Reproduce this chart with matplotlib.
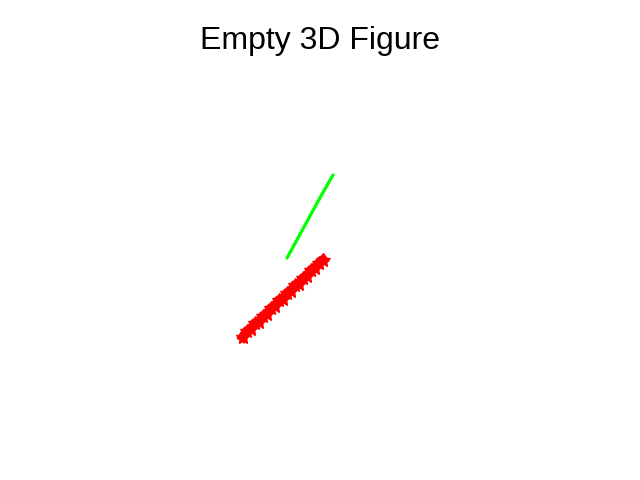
import matplotlib
matplotlib.use("Agg")
import matplotlib.pyplot as plt

plt.rcParams['font.family'] = ['Liberation Sans', 'DejaVu Sans']

# green segment
green_x = [287, 298, 310, 321, 333]
green_y = [258, 238, 216, 196, 175]

# red noisy band of star markers
red_x = [243, 247, 251, 255, 259, 263, 267, 271, 275, 279, 283,
         287, 291, 295, 299, 303, 307, 311, 315, 319, 323]
red_y = [337, 331, 329, 323, 322, 316, 314, 308, 306, 300, 299,
         293, 291, 285, 284, 278, 276, 270, 268, 263, 260]

fig = plt.figure(figsize=(6.4, 4.8), dpi=100)
ax = fig.add_axes([0, 0, 1, 1])
ax.set_xlim(0, 640)
ax.set_ylim(480, 0)
ax.axis('off')

ax.plot(green_x, green_y, color='#00ff00', lw=2.3, solid_capstyle='round')
ax.plot(red_x, red_y, color='red', lw=7, marker='*', ms=10, mec='red')

fig.suptitle("Empty 3D Figure", y=1 - 41 / 480, va='center', fontsize=23)

fig.savefig("out.png", dpi=100)
